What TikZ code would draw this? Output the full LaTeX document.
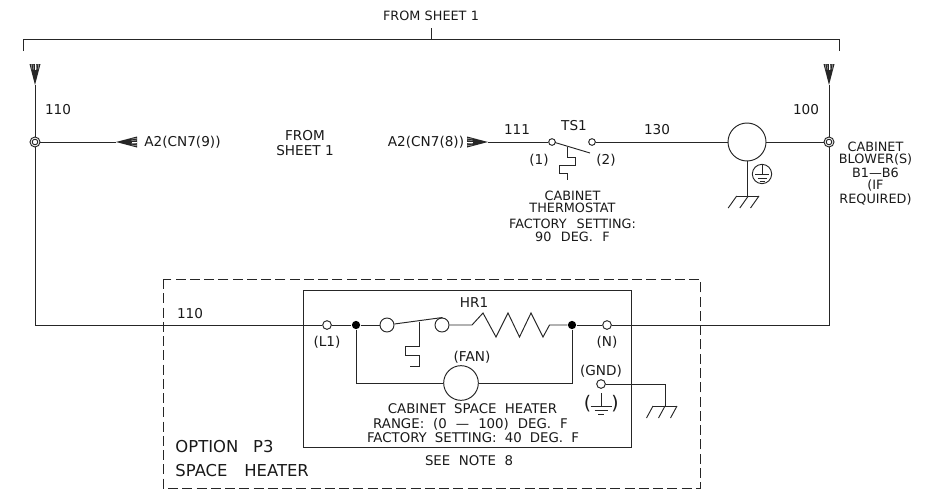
\documentclass[tikz,border=0pt]{standalone}
\usepackage{fontspec}
\setmainfont{DejaVu Sans}
\newcommand{\spreadto}[2]{\makebox[#1pt][s]{#2}}
\begin{document}
\begin{tikzpicture}[x=0.75pt,y=-0.75pt,line width=0.72pt,black!85,
  lbl/.style={inner sep=0pt,align=center,font=\fontsize{10.2}{12}\selectfont,text=black!90},
  tight/.style={lbl,font=\fontsize{9.6}{9.6}\selectfont},
  wide/.style={lbl,font=\fontsize{10}{10}\selectfont},
  big/.style={lbl,anchor=west,font=\fontsize{12.3}{13}\selectfont},
  term/.style={circle,draw,fill=white,inner sep=0pt,minimum size=#1},
  term/.default=7pt,
  dotnode/.style={circle,fill=black,draw=none,inner sep=0pt,minimum size=6.2pt},
  ring/.style={circle,draw,fill=white,inner sep=0pt,minimum size=7.5pt,
    path picture={\draw[line width=0.7pt] (path picture bounding box.center) circle (2.1pt);
                  \fill (path picture bounding box.center) circle (0.9pt);}},
  thin line/.style={line width=0.7pt},
  feed/.pic={
    \fill (0,0) -- (21,-5.5) -- (21,5.5) -- cycle;
    \foreach \k in {-3.9,-2,0,2,3.9}
      \draw[white,line width=0.2pt] (21,\k) -- (15.5,\k*0.74);
  },
  earth/.pic={
    \draw[thin line] (0,-13) -- (0,0);
    \draw[thin line] (-10.5,0) -- (10.5,0);
    \draw[thin line] (-6.5,4) -- (6.5,4);
    \draw[thin line] (-3,8) -- (3,8);
  }]
\useasboundingbox (0,0) rectangle (938,493);

% --- top bracket
\coordinate (brL) at (23,39);
\coordinate (brR) at (839,39);
\coordinate (brLe) at (23,51);
\coordinate (brRe) at (839,51);
\coordinate (brM) at (431,39);
\coordinate (brMt) at (431,28);
\draw (brLe) -- (brL) -- (brR) -- (brRe);
\draw (brM) -- (brMt);
\node[lbl,font=\fontsize{9.6}{12}\selectfont] (fromtop) at (431,16) {\spreadto{72}{FROM SHEET 1}};

% --- feeds
\coordinate (feedL) at (35,85);
\coordinate (feedR) at (829,85);
\coordinate (feedA) at (116,142);
\coordinate (feedB) at (488,142);
\pic[rotate=90] at (feedL) {feed};
\pic[rotate=90] at (feedR) {feed};
\pic at (feedA) {feed};
\pic[rotate=180] at (feedB) {feed};

\node[ring] (jL) at (35,142) {};
\node[ring] (jR) at (829,142) {};
\coordinate (cornerL) at (35,325);
\coordinate (cornerR) at (829,325);

% --- upper circuit
\node[term=5pt] (c1) at (552,142) {};
\node[term=5pt] (c2) at (592,142) {};
\node[circle,draw,fill=white,inner sep=0pt,minimum size=28.5pt] (motor) at (747,142) {};
\draw (feedL) -- (jL);
\draw (jL) -- (feedA);
\draw (feedB) -- (c1);
\draw (c2) -- (motor);
\draw (motor) -- (jR);
\draw (feedR) -- (jR);
\coordinate (bladeA) at (555,142.5);
\coordinate (bladeB) at (590,153);
\draw[thin line] (bladeA) -- (bladeB);
\draw[thin line] (567,146.5) -- (567,157) -- (575,157) -- (575,165) -- (559,165) -- (559,173) -- (567,173) -- (567,180);

% motor ground
\coordinate (gm) at (747,196);
\draw (motor) -- (gm);
\draw[thin line] (736.7,196) -- (759,196);
\foreach \bx in {736.7,748.3,759} \draw[thin line] (\bx,196) -- ++(-8.5,12);
\node[circle,draw,thin line,inner sep=0pt,minimum size=14.5pt] (earthM) at (762,174) {};
\draw[thin line] (earthM.north) -- (762,174);
\draw[thin line] (755,174) -- (769,174);
\draw[thin line] (757.5,178) -- (766.5,178);
\draw[thin line] (759.5,181.5) -- (764.5,181.5);

% --- labels upper
\node[lbl] (w110a) at (58,110) {110};
\node[lbl] (a2a) at (182.5,142) {A2(CN7(9))};
\node[lbl] (from2a) at (305,136) {FROM};
\node[lbl] (from2b) at (305,151) {SHEET 1};
\node[lbl] (a2b) at (426,142) {A2(CN7(8))};
\node[lbl] (w111) at (517,130) {111};
\node[lbl] (ts1) at (574,126) {TS1};
\node[lbl] (w130) at (657,130) {130};
\node[lbl] (p1) at (539,160) {(1)};
\node[lbl] (p2) at (606,160) {(2)};
\node[lbl] (w100) at (806,110) {100};
\node[tight] at (572.5,196) {CABINET};
\node[tight] at (572.5,208) {THERMOSTAT};
\node[tight] at (572.5,224) {\spreadto{95}{FACTORY SETTING:}};
\node[tight] at (572.5,237) {\spreadto{56}{90 DEG. F}};
\node[tight] at (875.5,147) {CABINET};
\node[tight] at (875.5,159) {BLOWER(S)};
\node[tight] at (875.5,173) {B1---B6};
\node[tight] at (875.5,185) {(IF};
\node[tight] at (875.5,199) {REQUIRED)};

% --- boxes
\draw[thin line,dash pattern=on 7.5pt off 3.2pt] (163,279) rectangle (700,488);
\draw (303,290) rectangle (631,447);

% --- heater circuit
\node[term=6.5pt,path picture={\fill (path picture bounding box.center) circle (0.6pt);}] (tL1) at (327,325) {};
\node[dotnode] (d1) at (356,325) {};
\node[term=10.5pt] (s1) at (387,325) {};
\node[term=10.5pt] (s2) at (442,325) {};
\node[dotnode] (d2) at (572,325) {};
\node[term=6.5pt] (tN) at (607,325) {};
\node[term=6.5pt] (tG) at (601,384) {};
\node[circle,draw,fill=white,inner sep=0pt,minimum size=26pt] (fan) at (461,383) {};
\draw (jL) -- (cornerL) -- (tL1);
\draw (jR) -- (cornerR) -- (tN);
\draw (tL1) -- (d1) -- (s1);
\draw (s2) -- (472,325) -- (483,313) -- (496,337) -- (508,313) -- (519.5,337) -- (531,313) -- (543,337) -- (549.5,325) -- (d2);
\draw (d2) -- (tN);
\draw (d1) |- (fan);
\draw (d2) |- (fan);
\draw (s1) -- (442.5,317.5);
\draw (419,321.5) -- (419,346) -- (405,346) -- (405,355) -- (419,355) -- (419,366) -- (410,366);

% heater ground
\coordinate (gh) at (665,406);
\draw (tG) -| (gh);
\draw[thin line] (653,406) -- (677,406);
\foreach \bx in {653,665,677} \draw[thin line] (\bx,406) -- ++(-6.5,12);
\pic at (601,406) {earth};
\node[lbl,font=\fontsize{14}{14}\selectfont] at (587.5,404) {(};
\node[lbl,font=\fontsize{14}{14}\selectfont] at (615,404) {)};

% --- labels heater
\node[lbl] (w110b) at (190,314) {110};
\node[lbl] (hr1) at (474,303) {HR1};
\node[lbl] (l1) at (327,342) {(L1)};
\node[lbl] (n1) at (607,342) {(N)};
\node[lbl] (fanl) at (472,357) {(FAN)};
\node[lbl] (gndl) at (601,371) {(GND)};
\node[wide] at (472.5,409) {\spreadto{127}{CABINET SPACE HEATER}};
\node[wide] at (470.5,424) {\spreadto{146}{RANGE: (0 --- 100) DEG. F}};
\node[wide] at (473,438) {\spreadto{159}{FACTORY SETTING: 40 DEG. F}};
\node[wide] at (469,461) {\spreadto{66}{SEE NOTE 8}};
\node[big] (opt) at (175,447) {\spreadto{73.5}{OPTION P3}};
\node[big] (sp) at (175,471) {\spreadto{100}{SPACE HEATER}};
\end{tikzpicture}
\end{document}
